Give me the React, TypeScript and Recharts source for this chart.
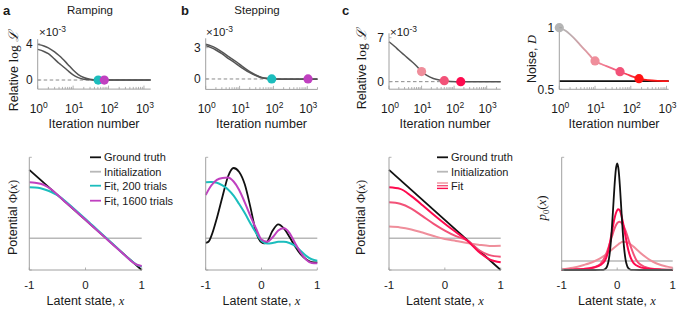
import React from "react";
import { LineChart, Line, XAxis, YAxis, ReferenceLine, ReferenceDot } from "recharts";

const W = 682;
const H = 316;
const YW = 10;
const XH = 10;

const FONT = "'Liberation Sans', Arial, Helvetica, sans-serif";
const SERIF = "'Liberation Serif', 'DejaVu Serif', 'Times New Roman', serif";
const AX = "#a0a0a0";
const TXT = "#1a1a1a";
const DARK = "#555555";
const CYAN = "#1cbdbd";
const MAG = "#c040c0";
const GRAY = "#b8b8b8";
const BLACK = "#111111";
const PINK1 = "#ef8e9b";
const PINK2 = "#f25278";
const PINK3 = "#fe0a4e";
const RED = "#ff1414";

// ---------- tick values / labels ----------
const logTickValues = [1, 2, 3, 4, 5, 6, 7, 8, 9, 10, 20, 30, 40, 50, 60, 70, 80, 90, 100, 200, 300, 400, 500, 600, 700, 800, 900, 1000, 2000];
const logMajor = [1, 10, 100, 1000];
const latentTicks = [-1, 0, 1];
const latentTickLabels = ["-1", "0", "1"];
const rampYTicks = [0, 4];
const stepYTicks = [0, 3];
const fitYTicks = [0, 7];
const noiseYTicks = [0.5, 1];
const potYTicks = [0, 1];
const zeroLevel = [0];

// ---------- a (top): ramping, relative log-likelihood ----------
const rampIter = [1, 1.5, 2, 3, 4, 5, 7, 10, 14, 20, 30, 50, 100, 300, 1000, 1550];
const rampLossRun1 = [3.93, 3.75, 3.55, 3.1, 2.7, 2.35, 1.75, 1.1, 0.6, 0.28, 0.08, 0.01, 0, 0, 0, 0];
const rampLossRun2 = [3.38, 3.15, 2.9, 2.3, 1.85, 1.55, 1.05, 0.57, 0.27, 0.08, 0.02, 0, 0, 0, 0, 0];
const rampStopIter = [51, 76];
const rampStopLoss = [0, 0];

// ---------- b (top): stepping ----------
const stepIter = [1, 1.5, 2, 3, 5, 8, 12, 20, 30, 45, 70, 100, 300, 1000, 2000];
const stepLossRun1 = [3.32, 3.15, 2.95, 2.6, 2.1, 1.65, 1.2, 0.7, 0.38, 0.15, 0.04, 0, -0.02, -0.02, -0.02];
const stepLossRun2 = [3.2, 2.98, 2.78, 2.42, 1.9, 1.45, 1.05, 0.6, 0.33, 0.12, 0.03, 0, 0, 0, 0];
const stepStopIter = [89, 1050];
const stepStopLoss = [0, 0];

// ---------- c (top): fit with noise ----------
const fitIter = [1, 1.5, 2, 3, 5, 7, 10, 15, 23, 35, 50, 80, 160, 500, 2700];
const fitLoss = [6.35, 5.6, 5.0, 4.2, 3.2, 2.5, 1.6, 0.95, 0.5, 0.25, 0.14, 0.04, 0, 0, 0];
const fitStopIter = [10, 50, 160];
const fitStopLoss = [1.6, 0.15, 0];

// ---------- d (top): noise D ----------
const noiseIter = [1, 1.5, 2, 3, 4, 6, 10, 15, 20, 30, 50, 80, 120, 170, 300, 600, 1150];
const noiseFit = [1.0, 0.975, 0.945, 0.895, 0.855, 0.8, 0.73, 0.705, 0.69, 0.67, 0.643, 0.62, 0.6, 0.586, 0.574, 0.568, 0.566];
const noiseTrue = [0.566];
const noiseStopIter = [1, 10, 50, 170];
const noiseStopVal = [1.0, 0.73, 0.643, 0.586];

// ---------- a (bottom): ramping potential ----------
const latentEnds = [-1, 1];
const rampTruth = [0.888, 0];
const initPotential = [0.281, 0.281];
const latentGrid = [-1, -0.9, -0.8, -0.7, -0.6, -0.5, -0.4, -0.3, -0.2, -0.1, 0, 0.1, 0.2, 0.3, 0.4, 0.5, 0.6, 0.7, 0.8, 0.9, 1];
const rampFit200 = [0.734, 0.732, 0.725, 0.71, 0.69, 0.665, 0.628, 0.586, 0.542, 0.497, 0.452, 0.407, 0.362, 0.316, 0.27, 0.224, 0.178, 0.132, 0.088, 0.05, 0.03];
const rampFit1600 = [0.778, 0.775, 0.765, 0.745, 0.712, 0.668, 0.622, 0.578, 0.534, 0.489, 0.445, 0.4, 0.355, 0.31, 0.265, 0.22, 0.175, 0.13, 0.085, 0.05, 0.035];

// ---------- b (bottom): stepping potential ----------
const stepTruthX = [-1, -0.95, -0.9, -0.8, -0.7, -0.6, -0.5, -0.4, -0.3, -0.2, -0.1, 0, 0.05, 0.1, 0.2, 0.3, 0.4, 0.5, 0.6, 0.7, 0.8, 0.9, 1];
const stepTruth = [0.24, 0.25, 0.3, 0.46, 0.65, 0.83, 0.905, 0.87, 0.76, 0.56, 0.34, 0.245, 0.236, 0.25, 0.35, 0.405, 0.37, 0.295, 0.21, 0.14, 0.095, 0.07, 0.068];
const stepFit200 = [0.778, 0.78, 0.775, 0.75, 0.715, 0.66, 0.585, 0.505, 0.415, 0.33, 0.26, 0.235, 0.24, 0.25, 0.25, 0.24, 0.215, 0.17, 0.125, 0.095, 0.083];
const stepFit1600 = [0.666, 0.75, 0.8, 0.817, 0.821, 0.785, 0.71, 0.6, 0.48, 0.37, 0.27, 0.25, 0.29, 0.35, 0.37, 0.33, 0.24, 0.155, 0.092, 0.062, 0.06];

// ---------- c (bottom): potential fits over iterations ----------
const coarseGrid = [-1, -0.8, -0.6, -0.4, -0.2, 0, 0.2, 0.4, 0.6, 0.8, 1];
const noisyTruth = [0.888, 0];
const potIter10 = [0.385, 0.378, 0.36, 0.332, 0.302, 0.275, 0.258, 0.24, 0.225, 0.214, 0.216];
const potIter50 = [0.601, 0.588, 0.545, 0.478, 0.41, 0.35, 0.3, 0.262, 0.18, 0.132, 0.118];
const potIter160 = [0.734, 0.72, 0.655, 0.575, 0.49, 0.41, 0.335, 0.262, 0.165, 0.095, 0.068];

// ---------- d (bottom): initial density p0 ----------
const densTruthX = [-1, -0.4, -0.3, -0.25, -0.2, -0.175, -0.15, -0.125, -0.1, -0.075, -0.05, -0.025, 0, 0.025, 0.05, 0.075, 0.1, 0.125, 0.15, 0.175, 0.2, 0.25, 0.3, 0.4, 1];
const densTruth = [0, 0, 0.0005, 0.002, 0.016, 0.042, 0.095, 0.192, 0.341, 0.533, 0.734, 0.888, 0.945, 0.888, 0.734, 0.533, 0.341, 0.192, 0.095, 0.042, 0.016, 0.002, 0.0005, 0, 0];
const densInit = [0.08, 0.08];
const densLightX = [-1, -0.8, -0.6, -0.5, -0.4, -0.3, -0.2, -0.1, 0, 0.05, 0.1, 0.15, 0.2, 0.3, 0.4, 0.5, 0.6, 0.7, 0.8, 0.9, 1];
const densLight = [0.006, 0.02, 0.045, 0.06, 0.08, 0.105, 0.14, 0.18, 0.22, 0.238, 0.25, 0.249, 0.24, 0.205, 0.16, 0.12, 0.085, 0.06, 0.042, 0.03, 0.02];
const densMidX = [-1, -0.8, -0.6, -0.5, -0.4, -0.3, -0.2, -0.15, -0.1, -0.05, 0, 0.04, 0.1, 0.15, 0.2, 0.25, 0.3, 0.35, 0.4, 0.5, 0.6, 0.8, 1];
const densMid = [0.002, 0.005, 0.01, 0.016, 0.028, 0.055, 0.14, 0.21, 0.29, 0.365, 0.415, 0.429, 0.405, 0.35, 0.275, 0.2, 0.135, 0.085, 0.055, 0.027, 0.014, 0.005, 0.002];
const densRedX = [-1, -0.8, -0.6, -0.5, -0.4, -0.3, -0.25, -0.2, -0.15, -0.1, -0.05, 0, 0.02, 0.05, 0.1, 0.15, 0.2, 0.25, 0.3, 0.4, 0.5, 0.6, 0.8, 1];
const densRed = [0.001, 0.003, 0.008, 0.014, 0.024, 0.045, 0.065, 0.105, 0.195, 0.325, 0.455, 0.53, 0.538, 0.525, 0.43, 0.3, 0.178, 0.1, 0.058, 0.028, 0.015, 0.008, 0.003, 0.001];

// ---------- helpers ----------
const pts = (xs: number[], ys: number[]) => xs.map((x, i) => ({ x, y: ys[i] }));

type Box = { x0: number; x1: number; y0: number; y1: number };
const margin = (b: Box) => ({ left: b.x0 - YW, right: W - b.x1, top: b.y0, bottom: H - b.y1 - XH });

const LogTick = (p: any) => {
  const { x, y, payload } = p;
  const v = payload.value as number;
  if (!logMajor.includes(v)) {
    return <line x1={x} x2={x} y1={y} y2={y - 2.2} stroke={AX} strokeWidth={0.8} />;
  }
  const e = Math.round(Math.log10(v));
  return (
    <g>
      <line x1={x} x2={x} y1={y} y2={y - 3.5} stroke={AX} strokeWidth={0.8} />
      <text x={x + 1} y={y + 24} textAnchor="middle" fontSize={12} fontFamily={FONT} fill={TXT}>
        10<tspan fontSize={8.5} dy={-5.5}>{e}</tspan>
      </text>
    </g>
  );
};

const NumTick = (p: any) => {
  const { x, y, payload } = p;
  return (
    <g>
      <line x1={x} x2={x + 2.5} y1={y} y2={y} stroke={AX} strokeWidth={0.8} />
      <text x={x - 5} y={y + 4.3} textAnchor="end" fontSize={12} fontFamily={FONT} fill={TXT}>
        {String(payload.value)}
      </text>
    </g>
  );
};

const LatentTick = (p: any) => {
  const { x, y, payload } = p;
  const i = latentTicks.indexOf(payload.value);
  return (
    <g>
      <line x1={x} x2={x} y1={y} y2={y - 2.5} stroke={AX} strokeWidth={0.8} />
      <text x={x} y={y + 18.5} textAnchor="middle" fontSize={11.5} fontFamily={FONT} fill={TXT}>
        {latentTickLabels[i]}
      </text>
    </g>
  );
};

const BlankYTick = (p: any) => {
  const { x, y } = p;
  return <line x1={x} x2={x + 2.5} y1={y} y2={y} stroke={AX} strokeWidth={0.8} />;
};

function Layer({ children }: { children: React.ReactNode }) {
  return <div style={{ position: "absolute", left: 0, top: 0 }}>{children}</div>;
}

function TopChart({ box, xMax, yDomain, yTicks, children }: { box: Box; xMax: number; yDomain: [number, number]; yTicks: number[]; children: React.ReactNode }) {
  return (
    <Layer>
      <LineChart width={W} height={H} margin={margin(box)}>
        <XAxis type="number" dataKey="x" scale="log" domain={[1, xMax]} ticks={logTickValues.filter((v) => v <= xMax)} interval={0} height={XH} tickSize={0} tickMargin={0} tickLine={false} axisLine={{ stroke: AX }} tick={LogTick} />
        <YAxis type="number" domain={yDomain} ticks={yTicks} interval={0} width={YW} tickSize={0} tickMargin={0} tickLine={false} axisLine={{ stroke: AX }} tick={NumTick} />
        {children}
      </LineChart>
    </Layer>
  );
}

function BottomChart({ box, children }: { box: Box; children: React.ReactNode }) {
  return (
    <Layer>
      <LineChart width={W} height={H} margin={margin(box)}>
        <XAxis type="number" dataKey="x" domain={[-1, 1]} ticks={latentTicks} interval={0} height={XH} tickSize={0} tickMargin={0} tickLine={false} axisLine={{ stroke: AX }} tick={LatentTick} />
        <YAxis type="number" domain={[0, 1]} ticks={potYTicks} interval={0} width={YW} tickSize={0} tickMargin={0} tickLine={false} axisLine={{ stroke: AX }} tick={BlankYTick} />
        {children}
      </LineChart>
    </Layer>
  );
}

const line = (key: string, data: { x: number; y: number }[], color: string, width: number) => (
  <Line key={key} data={data} dataKey="y" type="monotone" stroke={color} strokeWidth={width} dot={false} activeDot={false} isAnimationActive={false} />
);

const dots = (key: string, xs: number[], ys: number[], colors: string[]) =>
  xs.map((x, i) => <ReferenceDot key={key + i} x={x} y={ys[i]} r={4.6} fill={colors[i]} stroke="none" />);

const zeroDash = <ReferenceLine y={zeroLevel[0]} stroke="#8a8a8a" strokeWidth={1} strokeDasharray="3.5 2.5" />;

// ---------- text overlay ----------
const sup = (base: string, exp: string) => (
  <>
    {base}
    <tspan fontSize={8.5} dy={-4.5}>{exp}</tspan>
  </>
);

function Texts() {
  const lab = 12.5;
  return (
    <svg width={W} height={H} style={{ position: "absolute", left: 0, top: 0, pointerEvents: "none" }} fontFamily={FONT} fill={TXT}>
      <text x={3} y={14.5} fontSize={13} fontWeight="bold">a</text>
      <text x={181} y={14.5} fontSize={13} fontWeight="bold">b</text>
      <text x={342} y={14.5} fontSize={13} fontWeight="bold">c</text>
      <text x={90} y={14} fontSize={11.5} textAnchor="middle">Ramping</text>
      <text x={257} y={14} fontSize={11.5} textAnchor="middle">Stepping</text>

      <text x={39} y={36} fontSize={11.5}>{sup("×10", "-3")}</text>
      <text x={206} y={36} fontSize={11.5}>{sup("×10", "-3")}</text>
      <text x={390} y={36} fontSize={11.5}>{sup("×10", "-3")}</text>

      <text transform="translate(18,71) rotate(-90)" fontSize={lab} textAnchor="middle">
        Relative <tspan fontFamily={SERIF} fontSize={13.5}>log</tspan> <tspan fontFamily={SERIF} fontSize={13.5} fontStyle="italic">ℒ</tspan>
      </text>
      <text transform="translate(366,69) rotate(-90)" fontSize={lab} textAnchor="middle">
        Relative <tspan fontFamily={SERIF} fontSize={13.5}>log</tspan> <tspan fontFamily={SERIF} fontSize={13.5} fontStyle="italic">ℒ</tspan>
      </text>
      <text transform="translate(535.5,59) rotate(-90)" fontSize={lab} textAnchor="middle">
        Noise, <tspan fontFamily={SERIF} fontStyle="italic">D</tspan>
      </text>
      <text transform="translate(17,217.5) rotate(-90)" fontSize={lab} textAnchor="middle">
        Potential <tspan fontFamily={SERIF}>Φ(</tspan><tspan fontFamily={SERIF} fontStyle="italic">x</tspan><tspan fontFamily={SERIF}>)</tspan>
      </text>
      <text transform="translate(365,217.5) rotate(-90)" fontSize={lab} textAnchor="middle">
        Potential <tspan fontFamily={SERIF}>Φ(</tspan><tspan fontFamily={SERIF} fontStyle="italic">x</tspan><tspan fontFamily={SERIF}>)</tspan>
      </text>
      <text transform="translate(546,208) rotate(-90)" fontSize={13} textAnchor="middle" fontFamily={SERIF}>
        <tspan fontStyle="italic">p</tspan><tspan fontSize={8.5} dy={2.5}>0</tspan><tspan dy={-2.5}>(</tspan><tspan fontStyle="italic">x</tspan>)
      </text>

      {[94, 261.5, 445, 614].map((cx, i) => (
        <text key={"it" + i} x={cx} y={127.5} fontSize={lab} textAnchor="middle">Iteration number</text>
      ))}
      {[85.5, 261.5, 445, 617].map((cx, i) => (
        <text key={"ls" + i} x={cx} y={305} fontSize={lab} textAnchor="middle">
          Latent state, <tspan fontFamily={SERIF} fontStyle="italic">x</tspan>
        </text>
      ))}

      {/* legend a */}
      <line x1={90} x2={101} y1={157.3} y2={157.3} stroke={BLACK} strokeWidth={1.8} />
      <line x1={90} x2={101} y1={171.7} y2={171.7} stroke={GRAY} strokeWidth={1.8} />
      <line x1={90} x2={101} y1={185.7} y2={185.7} stroke={CYAN} strokeWidth={1.8} />
      <line x1={90} x2={101} y1={200.7} y2={200.7} stroke={MAG} strokeWidth={1.8} />
      <text x={104} y={161.3} fontSize={11}>Ground truth</text>
      <text x={104} y={175.7} fontSize={11}>Initialization</text>
      <text x={104} y={189.7} fontSize={11}>Fit, 200 trials</text>
      <text x={104} y={204.7} fontSize={11}>Fit, 1600 trials</text>

      {/* legend c */}
      <line x1={437} x2={448} y1={157.3} y2={157.3} stroke={BLACK} strokeWidth={1.8} />
      <line x1={437} x2={448} y1={171.7} y2={171.7} stroke={GRAY} strokeWidth={1.8} />
      <line x1={437} x2={448} y1={183} y2={183} stroke={PINK1} strokeWidth={1.4} />
      <line x1={437} x2={448} y1={185.7} y2={185.7} stroke={PINK2} strokeWidth={1.4} />
      <line x1={437} x2={448} y1={188.4} y2={188.4} stroke={PINK3} strokeWidth={1.4} />
      <text x={451} y={161.3} fontSize={11}>Ground truth</text>
      <text x={451} y={175.7} fontSize={11}>Initialization</text>
      <text x={451} y={189.7} fontSize={11}>Fit</text>
    </svg>
  );
}

export default function App() {
  return (
    <div style={{ position: "absolute", left: 0, top: 0, width: W, height: H, background: "#fff", overflow: "hidden" }}>
      {/* a top */}
      <TopChart box={{ x0: 37.7, x1: 150.7, y0: 39.2, y1: 89.1 }} xMax={1550} yDomain={[-1, 4.5]} yTicks={rampYTicks}>
        {zeroDash}
        {line("r1", pts(rampIter, rampLossRun1), DARK, 1.5)}
        {line("r2", pts(rampIter, rampLossRun2), DARK, 1.5)}
        {dots("rd", rampStopIter, rampStopLoss, [CYAN, MAG])}
      </TopChart>

      {/* b top */}
      <TopChart box={{ x0: 205.7, x1: 317.5, y0: 38.3, y1: 89.4 }} xMax={2000} yDomain={[-1, 3.9]} yTicks={stepYTicks}>
        {zeroDash}
        {line("s1", pts(stepIter, stepLossRun1), DARK, 1.5)}
        {line("s2", pts(stepIter, stepLossRun2), DARK, 1.5)}
        {dots("sd", stepStopIter, stepStopLoss, [CYAN, MAG])}
      </TopChart>

      {/* c top */}
      <TopChart box={{ x0: 389, x1: 500.7, y0: 33.3, y1: 89.2 }} xMax={2700} yDomain={[-1.2, 7.7]} yTicks={fitYTicks}>
        {zeroDash}
        {line("f1", pts(fitIter, fitLoss), DARK, 1.5)}
        {dots("fd", fitStopIter, fitStopLoss, [PINK1, PINK2, PINK3])}
      </TopChart>

      {/* d top */}
      <TopChart box={{ x0: 559.3, x1: 668.7, y0: 25.2, y1: 89.3 }} xMax={1150} yDomain={[0.5, 1.02]} yTicks={noiseYTicks}>
        <defs>
          <linearGradient id="noiseGrad" x1="0" y1="0" x2="1" y2="0">
            <stop offset="0" stopColor="#b5b5b5" />
            <stop offset="0.1" stopColor="#bcadaf" />
            <stop offset="0.33" stopColor={PINK1} />
            <stop offset="0.56" stopColor={PINK2} />
            <stop offset="0.73" stopColor={RED} />
            <stop offset="1" stopColor={RED} />
          </linearGradient>
        </defs>
        <ReferenceLine y={noiseTrue[0]} stroke={BLACK} strokeWidth={1.6} />
        {line("n1", pts(noiseIter, noiseFit), "url(#noiseGrad)", 1.8)}
        {dots("nd", noiseStopIter, noiseStopVal, ["#b5b5b5", PINK1, PINK2, RED])}
      </TopChart>

      {/* a bottom */}
      <BottomChart box={{ x0: 29.3, x1: 141.7, y0: 157.3, y1: 270 }}>
        {line("ai", pts(latentEnds, initPotential), GRAY, 1.5)}
        {line("at", pts(latentEnds, rampTruth), BLACK, 1.8)}
        {line("a2", pts(latentGrid, rampFit200), CYAN, 2)}
        {line("a16", pts(latentGrid, rampFit1600), MAG, 2)}
      </BottomChart>

      {/* b bottom */}
      <BottomChart box={{ x0: 205.7, x1: 317.3, y0: 157.3, y1: 270 }}>
        {line("bi", pts(latentEnds, initPotential), GRAY, 1.5)}
        {line("bt", pts(stepTruthX, stepTruth), BLACK, 1.8)}
        {line("b2", pts(latentGrid, stepFit200), CYAN, 2)}
        {line("b16", pts(latentGrid, stepFit1600), MAG, 2)}
      </BottomChart>

      {/* c bottom */}
      <BottomChart box={{ x0: 389, x1: 500.7, y0: 157.3, y1: 270 }}>
        {line("ci", pts(latentEnds, initPotential), GRAY, 1.5)}
        {line("ct", pts(latentEnds, noisyTruth), BLACK, 1.8)}
        {line("c10", pts(coarseGrid, potIter10), PINK1, 2)}
        {line("c50", pts(coarseGrid, potIter50), PINK2, 2)}
        {line("c160", pts(coarseGrid, potIter160), PINK3, 2)}
      </BottomChart>

      {/* d bottom */}
      <BottomChart box={{ x0: 561.7, x1: 672.7, y0: 157.3, y1: 270 }}>
        {line("di", pts(latentEnds, densInit), GRAY, 1.5)}
        {line("dl", pts(densLightX, densLight), PINK1, 2)}
        {line("dm", pts(densMidX, densMid), PINK2, 2)}
        {line("dr", pts(densRedX, densRed), PINK3, 2)}
        {line("dt", pts(densTruthX, densTruth), BLACK, 1.8)}
      </BottomChart>

      <Texts />
    </div>
  );
}
